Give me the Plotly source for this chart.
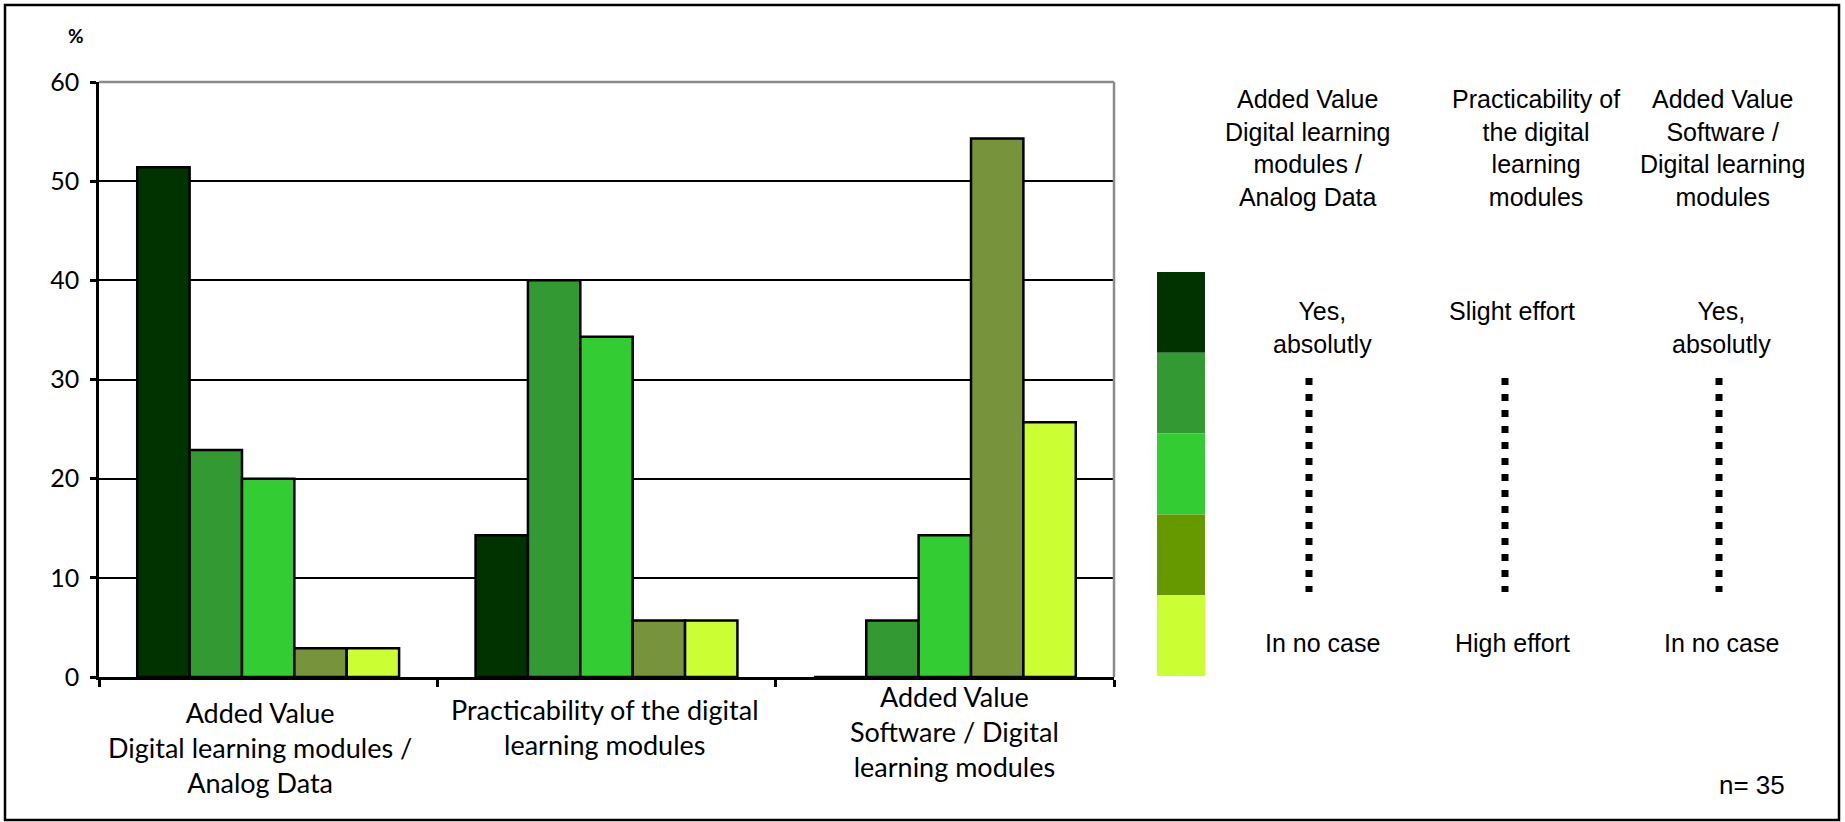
import plotly.graph_objects as go

# ---------------- data ----------------
categories = [
    "Added Value<br>Digital learning modules /<br>Analog Data",
    "Practicability of the digital<br>learning modules",
    "Added Value<br>Software / Digital<br>learning modules",
]
level_names = ["Level 1", "Level 2", "Level 3", "Level 4", "Level 5"]
level1 = [51.4, 14.3, 0.0]
level2 = [22.9, 40.0, 5.7]
level3 = [20.0, 34.3, 14.3]
level4 = [2.9, 5.7, 54.3]
level5 = [2.9, 5.7, 25.7]
series = [level1, level2, level3, level4, level5]

bar_colors = ["#003300", "#339933", "#33CC33", "#77933C", "#CCFF33"]
legend_colors = ["#003300", "#339933", "#33CC33", "#669900", "#CCFF33"]

legend_headers = [
    "Added Value<br>Digital learning<br>modules /<br>Analog Data",
    "Practicability of<br>the digital<br>learning<br>modules",
    "Added Value<br>Software /<br>Digital learning<br>modules",
]
legend_top = ["Yes,<br>absolutly", "Slight effort", "Yes,<br>absolutly"]
legend_bottom = ["In no case", "High effort", "In no case"]
sample_note = "n= 35"

# ---------------- layout geometry ----------------
W, H = 1845, 822
L, R, T, B = 99, 1114, 82, 677


def px(x):
    return (x - L) / (R - L)


def py(y):
    return (B - y) / (B - T)


fig = go.Figure()
for name, vals, col in zip(level_names, series, bar_colors):
    fig.add_trace(go.Bar(
        x=categories, y=vals, name=name,
        marker=dict(color=col, line=dict(color="black", width=2.5)),
        showlegend=False,
    ))

shapes = []
# plot area top / right border (gray)
shapes.append(dict(type="line", xref="paper", yref="paper", x0=0, x1=1, y0=1, y1=1,
                   line=dict(color="#8C8C8C", width=2.5), layer="above"))
shapes.append(dict(type="line", xref="paper", yref="paper", x0=1, x1=1, y0=0, y1=1,
                   line=dict(color="#8C8C8C", width=2.5), layer="above"))
# outer frame
shapes.append(dict(type="rect", xref="paper", yref="paper",
                   x0=px(5), x1=px(1839), y0=py(820), y1=py(5),
                   line=dict(color="black", width=2.5), layer="above"))
# legend colour column
sw_x0, sw_x1, sw_top, sw_bot = 1157, 1205, 272, 676
seg = (sw_bot - sw_top) / len(legend_colors)
for i, c in enumerate(legend_colors):
    shapes.append(dict(type="rect", xref="paper", yref="paper",
                       x0=px(sw_x0), x1=px(sw_x1),
                       y0=py(sw_top + (i + 1) * seg), y1=py(sw_top + i * seg),
                       fillcolor=c, line=dict(width=0), layer="above"))

annotations = []
# category labels under the x axis
cat_xshift = [-8, -2, 10]
cat_yshift = [-17, -14, -1]
for cat, xs, ys in zip(categories, cat_xshift, cat_yshift):
    annotations.append(dict(x=cat, y=0, xref="x", yref="y", text=cat, showarrow=False,
                            xanchor="center", yanchor="top", xshift=xs, yshift=ys, align="center",
                            font=dict(family="Lato", size=27, color="black")))

header_x = [1307, 1536, 1722]
dots_x = [1309, 1505, 1719]
top_x = [1322, 1512, 1721]
lfont = dict(family="Liberation Sans", size=25, color="black")
for i in range(3):
    annotations.append(dict(x=px(header_x[i]), y=py(148), xref="paper", yref="paper",
                            text=legend_headers[i], showarrow=False, xanchor="center", yanchor="middle",
                            font=lfont))
    top_y = 327 if "<br>" in legend_top[i] else 311
    annotations.append(dict(x=px(top_x[i]), y=py(top_y), xref="paper", yref="paper",
                            text=legend_top[i], showarrow=False, xanchor="center", yanchor="middle",
                            font=lfont))
    annotations.append(dict(x=px(top_x[i]), y=py(643), xref="paper", yref="paper",
                            text=legend_bottom[i], showarrow=False, xanchor="center", yanchor="middle",
                            font=lfont))
    shapes.append(dict(type="line", xref="paper", yref="paper",
                       x0=px(dots_x[i]), x1=px(dots_x[i]), y0=py(378), y1=py(592),
                       line=dict(color="black", width=7, dash="7px,9px"), layer="above"))

annotations.append(dict(x=px(1752), y=py(785), xref="paper", yref="paper", text=sample_note,
                        showarrow=False, xanchor="center", yanchor="middle",
                        font=dict(family="Liberation Sans", size=26, color="black")))
annotations.append(dict(x=px(76), y=py(35), xref="paper", yref="paper", text="<b>%</b>",
                        showarrow=False, xanchor="center", yanchor="middle",
                        font=dict(family="Lato", size=19, color="black")))

fig.update_layout(
    width=W, height=H,
    margin=dict(l=L, r=W - R, t=T, b=H - B, autoexpand=False),
    paper_bgcolor="white", plot_bgcolor="white",
    barmode="group", bargap=0.226, bargroupgap=0,
    shapes=shapes, annotations=annotations,
    xaxis=dict(type="category", tickson="boundaries", ticks="outside", ticklen=7,
               tickwidth=2.5, tickcolor="black", showline=True, linecolor="black", linewidth=2.5,
               showgrid=False, showticklabels=False),
    yaxis=dict(range=[0, 60], dtick=10, ticks="outside", ticklen=6, tickwidth=2.5,
               tickcolor="black", showline=True, linecolor="black", linewidth=2.5,
               showgrid=True, gridcolor="black", gridwidth=2, zeroline=False,
               ticklabelstandoff=6, tickfont=dict(family="Lato", size=25, color="black")),
)

fig.write_html("out.html", config={"displayModeBar": False},
               post_script="document.body.style.margin='0';")
